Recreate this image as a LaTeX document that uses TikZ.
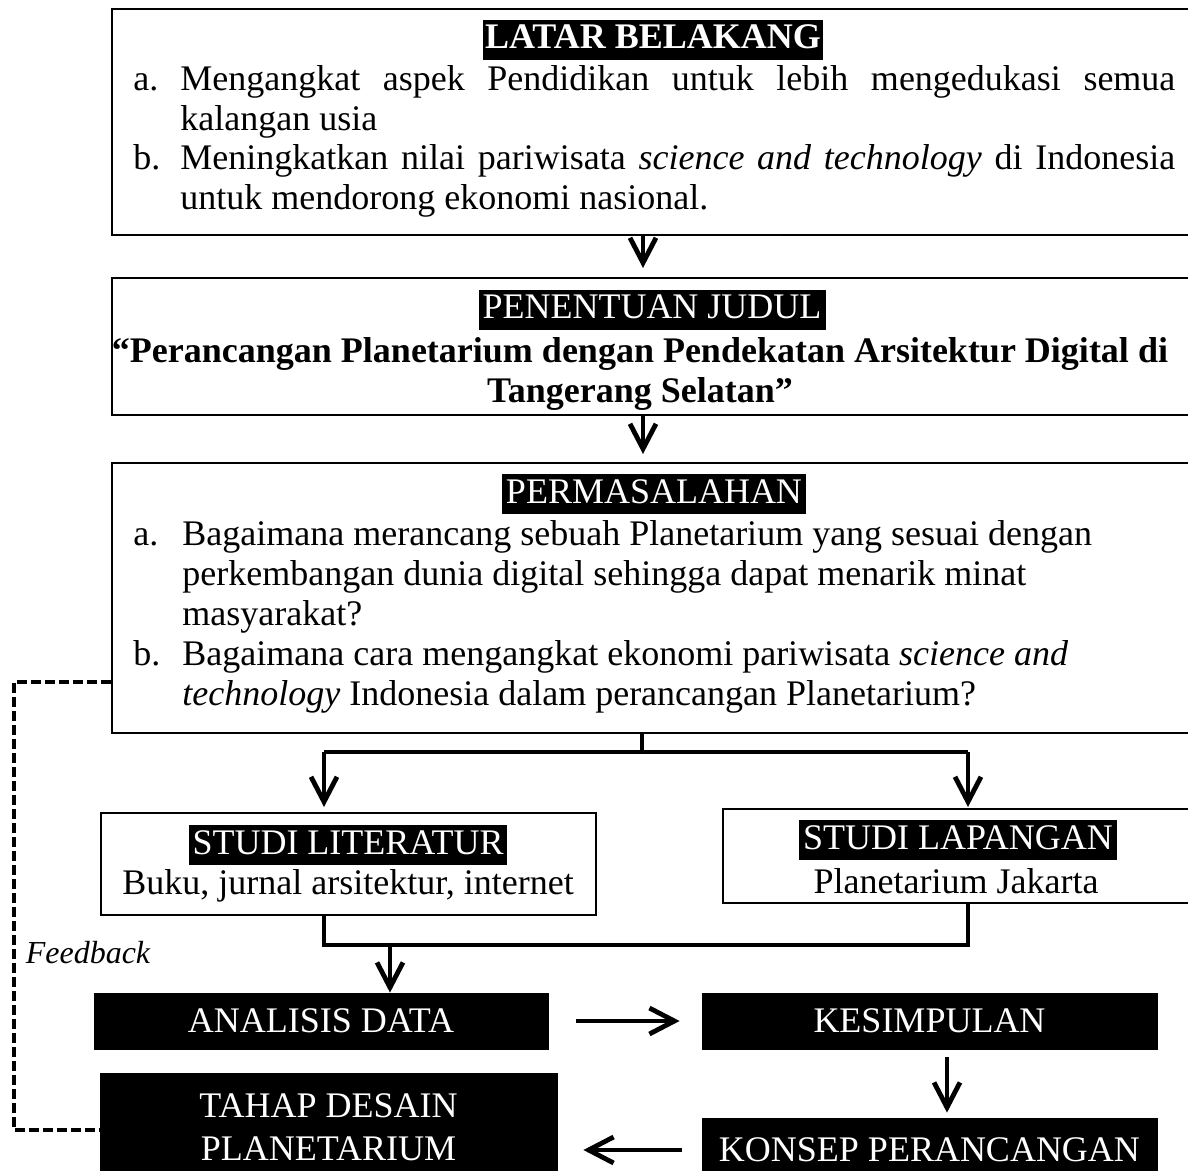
\documentclass[tikz,border=0pt]{standalone}
\usepackage{fontspec}
\setmainfont{Liberation Serif}
\usetikzlibrary{arrows.meta,fit,calc}
\newcommand\fs{\fontsize{18}{20}\selectfont}
\tikzset{
 box/.style={draw, line width=1pt, inner sep=0pt},
 bbox/.style={fill=black, draw=black, inner sep=0pt},
 wtxt/.style={text=white, inner sep=0pt, font=\fs, align=center},
 tlab/.style={fill=black, text=white, inner xsep=2pt, inner ysep=2pt, text height=12.5pt, text depth=3.5pt, font=\fs},
 itemtxt/.style={inner sep=0pt, font=\fs, anchor=base west},
 arr/.style={line width=2pt, -{Straight Barb[length=12.5pt,width=13pt,line width=2.4pt]}},
 conn/.style={line width=2pt},
 fb/.style={line width=1.6pt, dash pattern=on 5pt off 2pt},
}
\begin{document}
\begin{tikzpicture}[x=0.5pt,y=-0.5pt]
\useasboundingbox (0,0) rectangle (1188,1171);
% boxes
\node[box, fit={(112,9) (1200,235)}] (b1) {};
\node[box, fit={(112,278) (1200,415)}] (b2) {};
\node[box, fit={(112,463) (1200,733)}] (b3) {};
\node[box, fit={(101,813) (596,915)}] (sl) {};
\node[box, fit={(723,809) (1200,903)}] (sp) {};
\node[bbox, fit={(94,993) (548,1049)}] (ad) {};
\node[bbox, fit={(702,993) (1157,1049)}] (ks) {};
\node[bbox, fit={(702,1118) (1157,1182)}] (kp) {};
\node[bbox, fit={(100,1073) (557,1181)}] (td) {};
\node[wtxt] (adt) at (ad.center) {ANALISIS DATA};
\node[wtxt] (kst) at (ks.center) {KESIMPULAN};
\node[wtxt] (kpt) at (kp.center) {KONSEP PERANCANGAN};
\node[wtxt] (tdt) at (td.center) {TAHAP DESAIN\\[1.5pt]PLANETARIUM};
% box 1 text
\node[tlab, font=\fs\bfseries, inner xsep=1pt] (t1) at (653,40) {LATAR BELAKANG};
\node[itemtxt] (l1a) at (133,91) {a.};
\node[itemtxt, text width=497.5pt, align=justify] (l1at) at (180,91) {Mengangkat aspek Pendidikan untuk lebih mengedukasi semua\linebreak kalangan usia};
\node[itemtxt] (l1b) at (133,170) {b.};
\node[itemtxt, text width=497.5pt, align=justify] (l1bt) at (180,170) {Meningkatkan nilai pariwisata \textit{science and technology} di Indonesia\linebreak untuk mendorong ekonomi nasional.};
% box 2 text
\node[tlab] (t2) at (652,310) {PENENTUAN JUDUL};
\node[inner sep=0pt, font=\fs\bfseries, align=center] (t2b) at (640,374) {“Perancangan Planetarium dengan Pendekatan Arsitektur Digital di\\Tangerang Selatan”};
% box 3 text
\node[tlab] (t3) at (654,494) {PERMASALAHAN};
\node[itemtxt] (l3a) at (133,545) {a.};
\node[itemtxt, text width=497.5pt, align=flush left] (l3at) at (182,545) {Bagaimana merancang sebuah Planetarium yang sesuai dengan\\perkembangan dunia digital sehingga dapat menarik minat\\masyarakat?};
\node[itemtxt] (l3b) at (133,665) {b.};
\node[itemtxt, text width=497.5pt, align=flush left] (l3bt) at (182,665) {Bagaimana cara mengangkat ekonomi pariwisata \textit{science and}\\\textit{technology} Indonesia dalam perancangan Planetarium?};
% studi boxes text
\node[tlab] (t4) at (348,845) {STUDI LITERATUR};
\node[inner sep=0pt, font=\fs] (t4b) at (348,886) {Buku, jurnal arsitektur, internet};
\node[tlab] (t5) at (958,840) {STUDI LAPANGAN};
\node[inner sep=0pt, font=\fs] (t5b) at (956,881) {Planetarium Jakarta};
\node[inner sep=0pt, font=\fontsize{16}{18}\selectfont\itshape] (fbt) at (88,953) {Feedback};
% connectors
\coordinate (cx) at (643,0);
\draw[arr, shorten >=4.5pt] (b1.south -| cx) -- (b2.north -| cx);
\draw[arr, shorten >=4pt] (b2.south -| cx) -- (b3.north -| cx);
\coordinate (jc) at (642,752);
\coordinate (jl) at (324,752);
\coordinate (jr) at (968,752);
\draw[conn] (b3.south -| jc) -- (jc);
\draw[conn] (jl) -- (jr);
\draw[arr, shorten >=2.5pt] (jl) -- (sl.north -| jl);
\draw[arr, shorten >=0.5pt] (jr) -- (sp.north -| jr);
\coordinate (ml) at (324,945);
\coordinate (mr) at (968,945);
\draw[conn] (sl.south -| ml) -- (ml) -- (mr) -- (sp.south -| mr);
\coordinate (md) at (390,945);
\draw[arr] (md) -- (ad.north -| md);
\draw[arr, shorten <=14pt, shorten >=11pt] (ad.east) -- (ks.west);
\coordinate (cx2) at (947,0);
\draw[arr, shorten <=4pt, shorten >=2.5pt] (ks.south -| cx2) -- (kp.north -| cx2);
\draw[arr, shorten <=10pt, shorten >=13pt] (kp.west) -- (kp.west -| td.east);
% feedback
\coordinate (fbl) at (14,1130);
\draw[fb] ($(b3.south west)+(0,-52)$) -| (fbl) -- (fbl -| td.west);
\end{tikzpicture}
\end{document}
